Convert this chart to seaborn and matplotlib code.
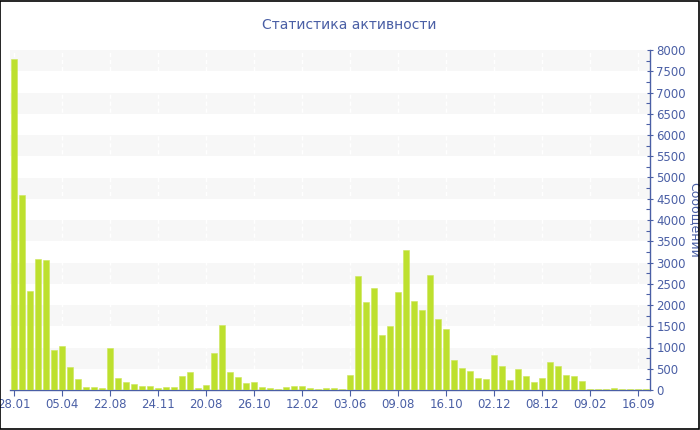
import numpy as np
import matplotlib
matplotlib.use("Agg")
import matplotlib.pyplot as plt
from matplotlib.patches import Rectangle
from matplotlib.ticker import MultipleLocator
import seaborn as sns

sns.set_theme(style="white")
plt.rcParams['font.family'] = ['DejaVu Sans']

# messages per period
messages = [
    7780, 4580, 2330, 3080, 3050, 940, 1040, 540, 260, 70,
    70, 55, 990, 275, 190, 150, 95, 95, 45, 70,
    70, 320, 430, 55, 125, 870, 1530, 430, 305, 175,
    190, 80, 45, 35, 65, 100, 95, 45, 35, 55,
    45, 35, 360, 2690, 2070, 2410, 1300, 1515, 2315, 3295,
    2085, 1890, 2715, 1670, 1425, 715, 510, 450, 275, 250,
    825, 565, 235, 500, 330, 195, 280, 650, 575, 360,
    330, 210, 25, 25, 25, 45, 25, 25, 25, 25,
]
tick_labels = ["28.01", "05.04", "22.08", "24.11", "20.08", "26.10", "12.02",
               "03.06", "09.08", "16.10", "02.12", "08.12", "09.02", "16.09"]
tick_step = 6

blue = "#4a5fa5"
bar_color = "#bde02e"

fig = plt.figure(figsize=(7, 4.3), dpi=100)
ax = fig.add_axes([10 / 700, 40 / 430, 640 / 700, 340 / 430])

# alternating background bands
for lo in range(500, 8000, 1000):
    ax.axhspan(lo, lo + 500, color="#f7f7f7", zorder=0, lw=0)

idx = np.arange(len(messages))
sns.barplot(x=idx, y=messages, color=bar_color, width=0.75, saturation=1,
            edgecolor="#cde65a", linewidth=0.4, ax=ax, zorder=3)

ax.set_xlim(-0.5, len(messages) - 0.5)
ax.set_ylim(0, 8000)

ticks = list(range(0, len(messages), tick_step))
ax.set_xticks(ticks)
ax.set_xticklabels(tick_labels)
for t in ticks:
    ax.axvline(t, color="white", lw=1, ls=(0, (3, 2)), zorder=1)

ax.yaxis.tick_right()
ax.yaxis.set_label_position("right")
ax.yaxis.set_major_locator(MultipleLocator(500))
ax.yaxis.set_minor_locator(MultipleLocator(250))
ax.set_ylabel("Сообщений", color=blue, fontsize=9, rotation=270, labelpad=11)

for side in ["left", "top"]:
    ax.spines[side].set_visible(False)
for side in ["right", "bottom"]:
    ax.spines[side].set_color(blue)
    ax.spines[side].set_linewidth(1)

ax.tick_params(axis="x", colors=blue, labelsize=8.5, length=4, width=0.8,
               direction="out", pad=2, bottom=True)
ax.tick_params(axis="y", which="major", colors=blue, labelsize=8.5, length=5,
               width=0.8, direction="inout", pad=2, right=True, left=False)
ax.tick_params(axis="y", which="minor", colors=blue, length=3, width=0.8,
               direction="in", right=True, left=False)
ax.grid(False)

fig.text(349 / 700, 1 - 25 / 430, "Статистика активности", color=blue,
         fontsize=10, ha="center", va="center")

fig.add_artist(Rectangle((0.0007, 0.0012), 0.9972, 0.9976, transform=fig.transFigure,
                         fill=False, edgecolor="black", lw=1.2))

fig.savefig("out.png", dpi=100)
